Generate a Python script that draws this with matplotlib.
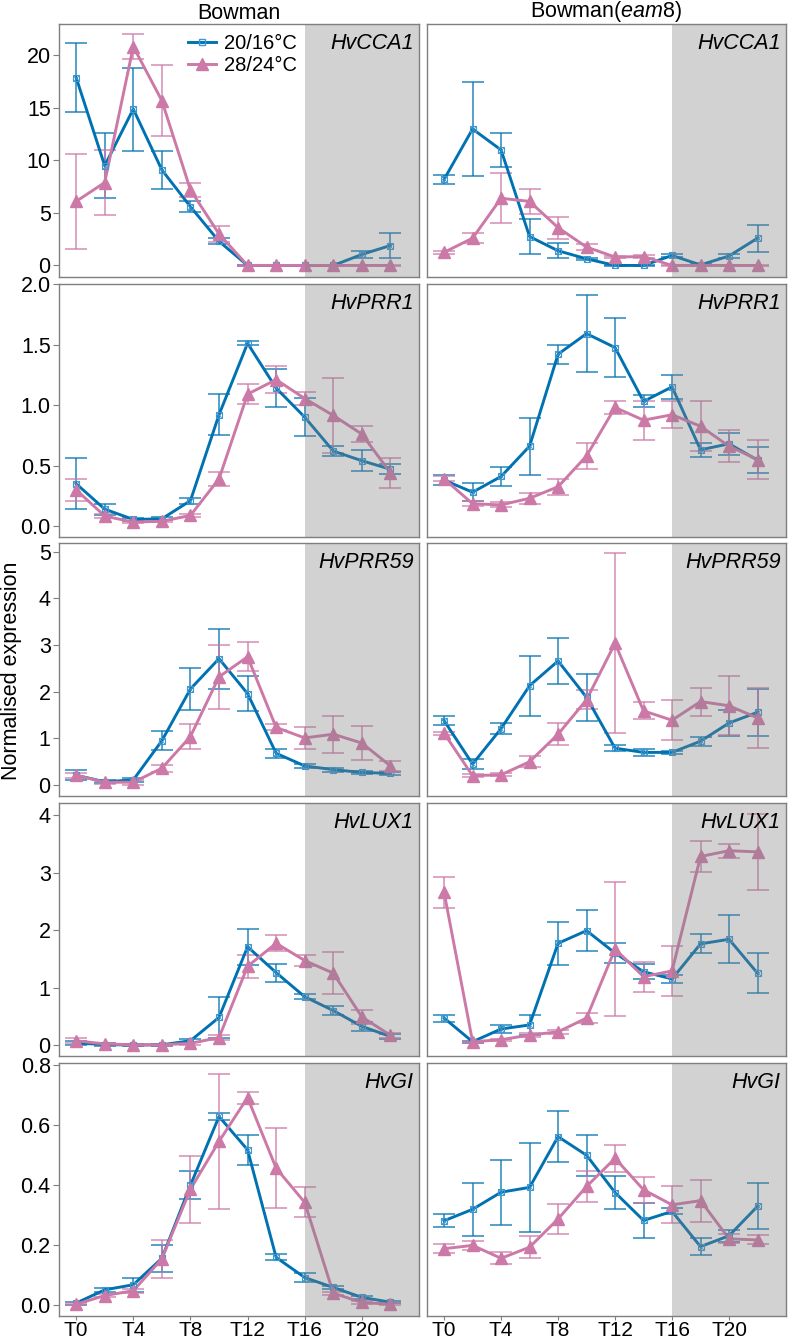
import matplotlib
matplotlib.use("Agg")
import matplotlib.pyplot as plt
from matplotlib.lines import Line2D
from matplotlib.patches import Rectangle
import numpy as np

plt.rcParams['font.family'] = ['Liberation Sans', 'DejaVu Sans']
plt.rcParams['mathtext.fontset'] = 'custom'
plt.rcParams['mathtext.rm'] = 'Liberation Sans'
plt.rcParams['mathtext.it'] = 'Liberation Sans:italic'

# ---------------- data ----------------
time_h = [0, 2, 4, 6, 8, 10, 12, 14, 16, 18, 20, 22]
x_tick_pos = [0, 4, 8, 12, 16, 20]
x_tick_labels = ["T0", "T4", "T8", "T12", "T16", "T20"]
genotypes = ["Bowman", "Bowman($\\it{eam8}$)"]
genes = ["HvCCA1", "HvPRR1", "HvPRR59", "HvLUX1", "HvGI"]
series_labels = ["20/16°C", "28/24°C"]

# Bowman
cca1_wt_cool = [17.9, 9.5, 14.9, 9.1, 5.6, 2.3, 0.0, 0.0, 0.0, 0.0, 1.05, 1.9]
cca1_wt_cool_se = [3.3, 3.1, 3.95, 1.8, 0.5, 0.3, 0.05, 0.05, 0.05, 0.05, 0.35, 1.15]
cca1_wt_warm = [6.1, 7.9, 20.85, 15.7, 7.2, 3.0, 0.0, 0.0, 0.0, 0.0, 0.0, 0.0]
cca1_wt_warm_se = [4.5, 3.1, 1.15, 3.4, 0.65, 0.8, 0.05, 0.05, 0.05, 0.05, 0.05, 0.05]
# Bowman(eam8)
cca1_m_cool = [8.2, 13.0, 11.0, 2.75, 1.4, 0.63, 0.0, 0.0, 0.95, 0.05, 0.9, 2.6]
cca1_m_cool_se = [0.4, 4.45, 1.6, 1.7, 0.7, 0.12, 0.05, 0.05, 0.12, 0.05, 0.2, 1.3]
cca1_m_warm = [1.25, 2.6, 6.4, 6.1, 3.6, 1.75, 0.8, 0.85, 0.0, 0.0, 0.0, 0.0]
cca1_m_warm_se = [0.15, 0.5, 2.4, 1.2, 1.05, 0.3, 0.1, 0.1, 0.05, 0.05, 0.05, 0.05]

prr1_wt_cool = [0.35, 0.14, 0.055, 0.06, 0.21, 0.92, 1.51, 1.14, 0.90, 0.62, 0.54, 0.47]
prr1_wt_cool_se = [0.21, 0.045, 0.012, 0.012, 0.025, 0.17, 0.015, 0.155, 0.155, 0.045, 0.085, 0.04]
prr1_wt_warm = [0.30, 0.083, 0.033, 0.04, 0.088, 0.39, 1.09, 1.21, 1.054, 0.914, 0.76, 0.44]
prr1_wt_warm_se = [0.09, 0.015, 0.01, 0.01, 0.015, 0.06, 0.085, 0.11, 0.05, 0.31, 0.065, 0.125]
prr1_m_cool = [0.38, 0.28, 0.41, 0.66, 1.42, 1.59, 1.475, 1.03, 1.15, 0.63, 0.68, 0.545]
prr1_m_cool_se = [0.04, 0.075, 0.075, 0.235, 0.08, 0.32, 0.245, 0.05, 0.1, 0.06, 0.09, 0.105]
prr1_m_warm = [0.39, 0.185, 0.175, 0.23, 0.325, 0.58, 0.98, 0.875, 0.92, 0.825, 0.66, 0.55]
prr1_m_warm_se = [0.02, 0.02, 0.02, 0.045, 0.065, 0.11, 0.05, 0.16, 0.11, 0.205, 0.13, 0.165]

prr59_wt_cool = [0.21, 0.07, 0.11, 0.95, 2.06, 2.71, 1.96, 0.68, 0.41, 0.33, 0.27, 0.25]
prr59_wt_cool_se = [0.11, 0.03, 0.05, 0.2, 0.46, 0.64, 0.38, 0.1, 0.04, 0.04, 0.04, 0.03]
prr59_wt_warm = [0.21, 0.06, 0.06, 0.36, 1.04, 2.32, 2.75, 1.235, 1.01, 1.09, 0.90, 0.41]
prr59_wt_warm_se = [0.05, 0.03, 0.05, 0.07, 0.27, 0.69, 0.31, 0.065, 0.245, 0.4, 0.37, 0.1]
prr59_m_cool = [1.38, 0.45, 1.21, 2.13, 2.66, 1.88, 0.79, 0.70, 0.70, 0.94, 1.33, 1.56]
prr59_m_cool_se = [0.09, 0.11, 0.125, 0.64, 0.5, 0.51, 0.06, 0.07, 0.03, 0.1, 0.27, 0.51]
prr59_m_warm = [1.11, 0.2, 0.22, 0.5, 1.09, 1.83, 3.04, 1.59, 1.39, 1.79, 1.70, 1.44]
prr59_m_warm_se = [0.03, 0.03, 0.03, 0.12, 0.235, 0.2, 1.93, 0.18, 0.43, 0.3, 0.63, 0.64]

lux1_wt_cool = [0.035, 0.01, 0.0, 0.005, 0.075, 0.48, 1.71, 1.26, 0.84, 0.60, 0.325, 0.15]
lux1_wt_cool_se = [0.04, 0.02, 0.02, 0.02, 0.03, 0.36, 0.31, 0.155, 0.04, 0.085, 0.08, 0.04]
lux1_wt_warm = [0.075, 0.02, 0.005, 0.005, 0.03, 0.13, 1.37, 1.77, 1.47, 1.25, 0.49, 0.17]
lux1_wt_warm_se = [0.04, 0.02, 0.02, 0.02, 0.02, 0.04, 0.205, 0.14, 0.09, 0.37, 0.125, 0.04]
lux1_m_cool = [0.47, 0.058, 0.28, 0.35, 1.77, 1.99, 1.60, 1.275, 1.15, 1.76, 1.84, 1.25]
lux1_m_cool_se = [0.06, 0.02, 0.07, 0.18, 0.37, 0.36, 0.17, 0.13, 0.075, 0.165, 0.42, 0.35]
lux1_m_warm = [2.655, 0.058, 0.093, 0.174, 0.23, 0.47, 1.67, 1.19, 1.29, 3.28, 3.38, 3.36]
lux1_m_warm_se = [0.27, 0.02, 0.02, 0.03, 0.04, 0.09, 1.17, 0.26, 0.44, 0.27, 0.12, 0.66]

gi_wt_cool = [0.008, 0.052, 0.069, 0.157, 0.40, 0.629, 0.518, 0.16, 0.093, 0.06, 0.027, 0.011]
gi_wt_cool_se = [0.005, 0.007, 0.023, 0.044, 0.047, 0.012, 0.049, 0.01, 0.015, 0.006, 0.005, 0.004]
gi_wt_warm = [0.004, 0.033, 0.049, 0.155, 0.387, 0.546, 0.692, 0.457, 0.343, 0.041, 0.01, 0.004]
gi_wt_warm_se = [0.004, 0.004, 0.007, 0.064, 0.111, 0.226, 0.02, 0.134, 0.05, 0.005, 0.004, 0.004]
gi_m_cool = [0.282, 0.32, 0.377, 0.393, 0.562, 0.50, 0.376, 0.283, 0.313, 0.196, 0.232, 0.33]
gi_m_cool_se = [0.022, 0.089, 0.108, 0.148, 0.086, 0.069, 0.056, 0.058, 0.01, 0.029, 0.02, 0.077]
gi_m_warm = [0.189, 0.2, 0.157, 0.194, 0.288, 0.396, 0.49, 0.385, 0.335, 0.349, 0.222, 0.218]
gi_m_warm_se = [0.015, 0.015, 0.02, 0.037, 0.05, 0.052, 0.045, 0.044, 0.062, 0.07, 0.015, 0.015]

y_ticks = [[0, 5, 10, 15, 20],
           [0.0, 0.5, 1.0, 1.5, 2.0],
           [0, 1, 2, 3, 4, 5],
           [0, 1, 2, 3, 4],
           [0.0, 0.2, 0.4, 0.6, 0.8]]
y_tick_labels = [["0", "5", "10", "15", "20"],
                 ["0.0", "0.5", "1.0", "1.5", "2.0"],
                 ["0", "1", "2", "3", "4", "5"],
                 ["0", "1", "2", "3", "4"],
                 ["0.0", "0.2", "0.4", "0.6", "0.8"]]
y_limits = [(-1.1, 23.0), (-0.09, 1.995), (-0.235, 5.19), (-0.19, 4.21), (-0.035, 0.807)]

panels = {
    (0, 0): (cca1_wt_cool, cca1_wt_cool_se, cca1_wt_warm, cca1_wt_warm_se),
    (0, 1): (cca1_m_cool, cca1_m_cool_se, cca1_m_warm, cca1_m_warm_se),
    (1, 0): (prr1_wt_cool, prr1_wt_cool_se, prr1_wt_warm, prr1_wt_warm_se),
    (1, 1): (prr1_m_cool, prr1_m_cool_se, prr1_m_warm, prr1_m_warm_se),
    (2, 0): (prr59_wt_cool, prr59_wt_cool_se, prr59_wt_warm, prr59_wt_warm_se),
    (2, 1): (prr59_m_cool, prr59_m_cool_se, prr59_m_warm, prr59_m_warm_se),
    (3, 0): (lux1_wt_cool, lux1_wt_cool_se, lux1_wt_warm, lux1_wt_warm_se),
    (3, 1): (lux1_m_cool, lux1_m_cool_se, lux1_m_warm, lux1_m_warm_se),
    (4, 0): (gi_wt_cool, gi_wt_cool_se, gi_wt_warm, gi_wt_warm_se),
    (4, 1): (gi_m_cool, gi_m_cool_se, gi_m_warm, gi_m_warm_se),
}

# ---------------- style ----------------
W, H = 789, 1344
BLUE = "#0072B2"
PINK = "#CC79A7"
FRAME = "#7f7f7f"
col_left = [59, 427]
col_width = [360, 359]
row_top = [24, 284, 543, 803, 1063]
row_h = 253

fig = plt.figure(figsize=(W / 100, H / 100), dpi=100)


def draw_series(ax, y, se, color, kind):
    ax.errorbar(time_h, y, yerr=se, fmt='none', ecolor=color, elinewidth=1.1,
                capsize=8, capthick=1.1, alpha=0.85, zorder=2)
    ax.plot(time_h, y, color=color, lw=2.1, zorder=2.5, solid_joinstyle='round')
    if kind == 'sq':
        ax.plot(time_h, y, ls='none', marker='s', ms=5, mfc='none', mec='#3f97cf', mew=0.8, zorder=2.6)
        ax.plot(time_h, y, ls='none', marker='x', ms=4, mec='#3f97cf', mew=0.6, zorder=2.6)
    else:
        ax.plot(time_h, y, ls='none', marker='^', ms=8, color=color, zorder=2.6)


for r in range(5):
    for c in range(2):
        l = col_left[c] / W
        b = 1 - (row_top[r] + row_h) / H
        ax = fig.add_axes([l, b, col_width[c] / W, row_h / H])
        cool, cool_se, warm, warm_se = panels[(r, c)]
        draw_series(ax, cool, cool_se, BLUE, 'sq')
        draw_series(ax, warm, warm_se, PINK, 'tri')
        ax.set_xlim(-1.2, 24.0)
        ax.set_ylim(*y_limits[r])
        ax.add_patch(Rectangle((16, y_limits[r][0]), 8.0, y_limits[r][1] - y_limits[r][0],
                               facecolor='#808080', alpha=0.35, edgecolor='none', zorder=3))
        ax.text(0.985, 0.965, genes[r], transform=ax.transAxes, ha='right', va='top',
                fontsize=15.5, style='italic', zorder=5)
        for s in ax.spines.values():
            s.set_color(FRAME)
            s.set_linewidth(1.0)
            s.set_zorder(6)
        ax.tick_params(axis='both', colors=FRAME, labelcolor='black', labelsize=15.5,
                       length=4, width=0.8, pad=2)
        ax.set_yticks(y_ticks[r])
        if c == 0:
            ax.set_yticklabels(y_tick_labels[r])
        else:
            ax.set_yticklabels([])
            ax.tick_params(axis='y', length=0)
        ax.set_xticks(x_tick_pos)
        if r == 4:
            ax.set_xticklabels(x_tick_labels)
            ax.tick_params(axis='x', pad=0.5, length=3, labelsize=15)
        else:
            ax.set_xticklabels([])
            ax.tick_params(axis='x', length=0)
        if r == 0:
            ax.set_title(genotypes[c], fontsize=15.5, pad=2)
        if r == 0 and c == 0:
            h1 = Line2D([0], [0], color=BLUE, lw=2.1, marker='s', ms=5, mfc='none', mec='#3f97cf')
            h2 = Line2D([0], [0], color=PINK, lw=2.1, marker='^', ms=8)
            leg = ax.legend([h1, h2], series_labels, loc='upper left',
                            bbox_to_anchor=(0.32, 1.015), frameon=False, fontsize=14.5,
                            handlelength=1.4, handletextpad=0.35, labelspacing=0.15,
                            borderaxespad=0.3)
            leg.set_zorder(7)

fig.text(12 / W, 1 - 671 / H, "Normalised expression", rotation=90, ha='center',
         va='center', fontsize=15.5)

fig.savefig("out.png", dpi=100)
